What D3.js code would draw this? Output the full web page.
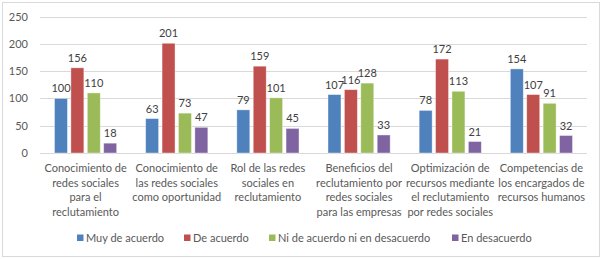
<!DOCTYPE html>
<html>
<head>
<meta charset="utf-8">
<script src="https://cdn.jsdelivr.net/npm/d3@7"></script>
<style>
  body { margin: 0; background: #fff; }
  svg { font-family: Lato, "Open Sans", sans-serif; }
</style>
</head>
<body>
<svg></svg>
<script>
// Categories (wrapped as in the original)
const categories = [
    ["Conocimiento de", "redes sociales", "para el", "reclutamiento"],
    ["Conocimiento de", "las redes sociales", "como oportunidad"],
    ["Rol de las redes", "sociales en", "reclutamiento"],
    ["Beneficios del", "reclutamiento por", "redes sociales", "para las empresas"],
    ["Optimización de", "recursos mediante", "el reclutamiento", "por redes sociales"],
    ["Competencias de", "los encargados de", "recursos humanos"]
];
const seriesNames = ["Muy de acuerdo", "De acuerdo", "Ni de acuerdo ni en desacuerdo", "En desacuerdo"];
const muyDeAcuerdo = [100, 63, 79, 107, 78, 154];
const deAcuerdo = [156, 201, 159, 116, 172, 107];
const niDeAcuerdo = [110, 73, 101, 128, 113, 91];
const enDesacuerdo = [18, 47, 45, 33, 21, 32];
const yTicks = [0, 50, 100, 150, 200, 250];
const colors = ["#4F81BD", "#C0504D", "#9BBB59", "#8064A2"];

const series = [muyDeAcuerdo, deAcuerdo, niDeAcuerdo, enDesacuerdo];

// Dimensions
const svgWidth = 604, svgHeight = 259;
const plot = { left: 40, right: 587, top: 16.5, bottom: 153 };

const svg = d3.select("svg")
    .attr("width", svgWidth)
    .attr("height", svgHeight);

// Outer border
svg.append("rect")
    .attr("x", 2.5).attr("y", 2.5)
    .attr("width", 597).attr("height", 254)
    .attr("fill", "#fff")
    .attr("stroke", "#D9D9D9");

// Scales
const x0 = d3.scaleBand()
    .domain(d3.range(categories.length))
    .range([plot.left, plot.right])
    .padding(0);

const x1 = d3.scaleBand()
    .domain(d3.range(series.length))
    .range([14.5, x0.bandwidth() - 14.5])
    .paddingInner(0.21);

const y = d3.scaleLinear()
    .domain([0, 250])
    .range([plot.bottom, plot.top]);

// Gridlines
svg.append("g")
    .selectAll("line")
    .data(yTicks)
    .join("line")
    .attr("x1", plot.left).attr("x2", plot.right)
    .attr("y1", d => Math.round(y(d)) + 0.5)
    .attr("y2", d => Math.round(y(d)) + 0.5)
    .attr("stroke", "#D9D9D9");

// Y axis labels
const yAxis = d3.axisLeft(y).tickValues(yTicks).tickSize(0).tickPadding(12);
svg.append("g")
    .attr("transform", `translate(${plot.left},0)`)
    .call(yAxis)
    .call(g => g.select(".domain").remove())
    .selectAll("text")
    .attr("font-size", 11)
    .attr("font-family", "Lato, sans-serif")
    .attr("fill", "#595959");

// Bars
const groups = svg.append("g")
    .selectAll("g")
    .data(categories)
    .join("g")
    .attr("transform", (d, i) => `translate(${x0(i)},0)`);

groups.selectAll("rect")
    .data((d, i) => series.map((s, j) => ({ s: j, v: s[i] })))
    .join("rect")
    .attr("x", d => x1(d.s))
    .attr("y", d => y(d.v))
    .attr("width", x1.bandwidth())
    .attr("height", d => y(0) - y(d.v))
    .attr("fill", d => colors[d.s])
    .attr("stroke", "#fff")
    .attr("stroke-opacity", 0.5)
    .attr("stroke-width", 0.75);

// Value labels
groups.selectAll("text.val")
    .data((d, i) => series.map((s, j) => ({ s: j, v: s[i] })))
    .join("text")
    .attr("class", "val")
    .attr("x", d => x1(d.s) + x1.bandwidth() / 2)
    .attr("y", d => y(d.v) - 6)
    .attr("text-anchor", "middle")
    .attr("font-size", 11)
    .attr("fill", "#404040")
    .text(d => d.v);

// Category labels
groups.append("text")
    .attr("x", x0.bandwidth() / 2)
    .attr("y", 172)
    .attr("text-anchor", "middle")
    .attr("font-size", 11)
    .attr("fill", "#595959")
    .selectAll("tspan")
    .data(d => d)
    .join("tspan")
    .attr("x", x0.bandwidth() / 2)
    .attr("dy", (d, i) => i === 0 ? 0 : 14.5)
    .text(d => d);

// Legend
const legendX = [77, 184, 269, 452];
const legend = svg.append("g")
    .selectAll("g")
    .data(seriesNames)
    .join("g")
    .attr("transform", (d, i) => `translate(${legendX[i]},234.5)`);

legend.append("rect")
    .attr("width", 6.5).attr("height", 6.5)
    .attr("fill", (d, i) => colors[i]);

legend.append("text")
    .attr("x", 9)
    .attr("y", 7)
    .attr("font-size", 11)
    .attr("fill", "#595959")
    .text(d => d);
</script>
</body>
</html>
